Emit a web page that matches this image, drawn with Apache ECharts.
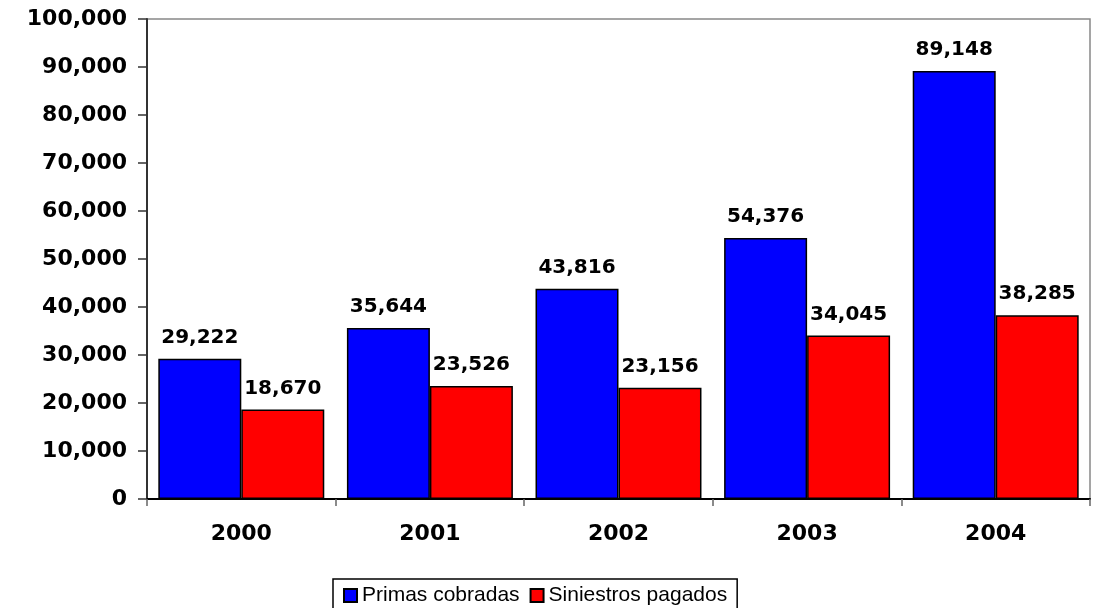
<!DOCTYPE html>
<html>
<head>
<meta charset="utf-8">
<script src="https://cdn.jsdelivr.net/npm/echarts@6/dist/echarts.min.js"></script>
<style>
  html, body { margin: 0; padding: 0; background: #fff; }
  #chart { width: 1094px; height: 608px; }
</style>
</head>
<body>
<div id="chart"></div>
<script>
// Annual figures, 2000–2004
const years = ['2000', '2001', '2002', '2003', '2004'];
const primasCobradas = [29222, 35644, 43816, 54376, 89148];
const siniestrosPagados = [18670, 23526, 23156, 34045, 38285];
const seriesNames = ['Primas cobradas', 'Siniestros pagados'];

const fmt = v => Number(v).toLocaleString('en-US');
const BOLD_FONT = '"DejaVu Sans", Verdana, sans-serif';
const LEGEND_FONT = '"Liberation Sans", Arial, sans-serif';

const chart = echarts.init(document.getElementById('chart'), null, { renderer: 'canvas' });

const labelStyle = {
  show: true,
  position: 'top',
  distance: 11,
  formatter: p => fmt(p.value),
  fontFamily: BOLD_FONT,
  fontWeight: 'bold',
  fontSize: 20,
  color: '#000'
};

chart.setOption({
  animation: false,
  backgroundColor: '#fff',
  grid: {
    left: 147, right: 4, top: 19, bottom: 109,
    show: true, borderColor: '#888', borderWidth: 1.5, backgroundColor: '#fff'
  },
  legend: {
    data: seriesNames,
    bottom: -10,
    left: 333,
    itemWidth: 13,
    itemHeight: 13,
    itemGap: 10,
    icon: 'rect',
    borderColor: '#000',
    borderWidth: 1.5,
    padding: [6, 10, 12, 10],
    textStyle: { fontFamily: LEGEND_FONT, fontSize: 21, color: '#000' }
  },
  xAxis: {
    type: 'category',
    data: years,
    axisLine: { lineStyle: { color: '#000', width: 2 } },
    axisTick: { show: true, length: 7, lineStyle: { color: '#666', width: 1.5 } },
    axisLabel: {
      margin: 24, fontFamily: BOLD_FONT, fontWeight: 'bold', fontSize: 22, color: '#000'
    }
  },
  yAxis: {
    type: 'value',
    min: 0, max: 100000, interval: 10000,
    splitLine: { show: false },
    axisLine: { show: true, lineStyle: { color: '#333', width: 2 } },
    axisTick: { show: true, length: 9, lineStyle: { color: '#333', width: 1.5 } },
    axisLabel: {
      margin: 20, formatter: v => fmt(v),
      fontFamily: BOLD_FONT, fontWeight: 'bold', fontSize: 22, color: '#000'
    }
  },
  series: [
    {
      name: seriesNames[0],
      type: 'bar',
      data: primasCobradas,
      barGap: '0%',
      barCategoryGap: '12%',
      itemStyle: { color: '#0000FF', borderColor: '#000', borderWidth: 1.5 },
      label: labelStyle
    },
    {
      name: seriesNames[1],
      type: 'bar',
      data: siniestrosPagados,
      barGap: '0%',
      barCategoryGap: '12%',
      itemStyle: { color: '#FF0000', borderColor: '#000', borderWidth: 1.5 },
      label: labelStyle
    }
  ]
});
</script>
</body>
</html>
